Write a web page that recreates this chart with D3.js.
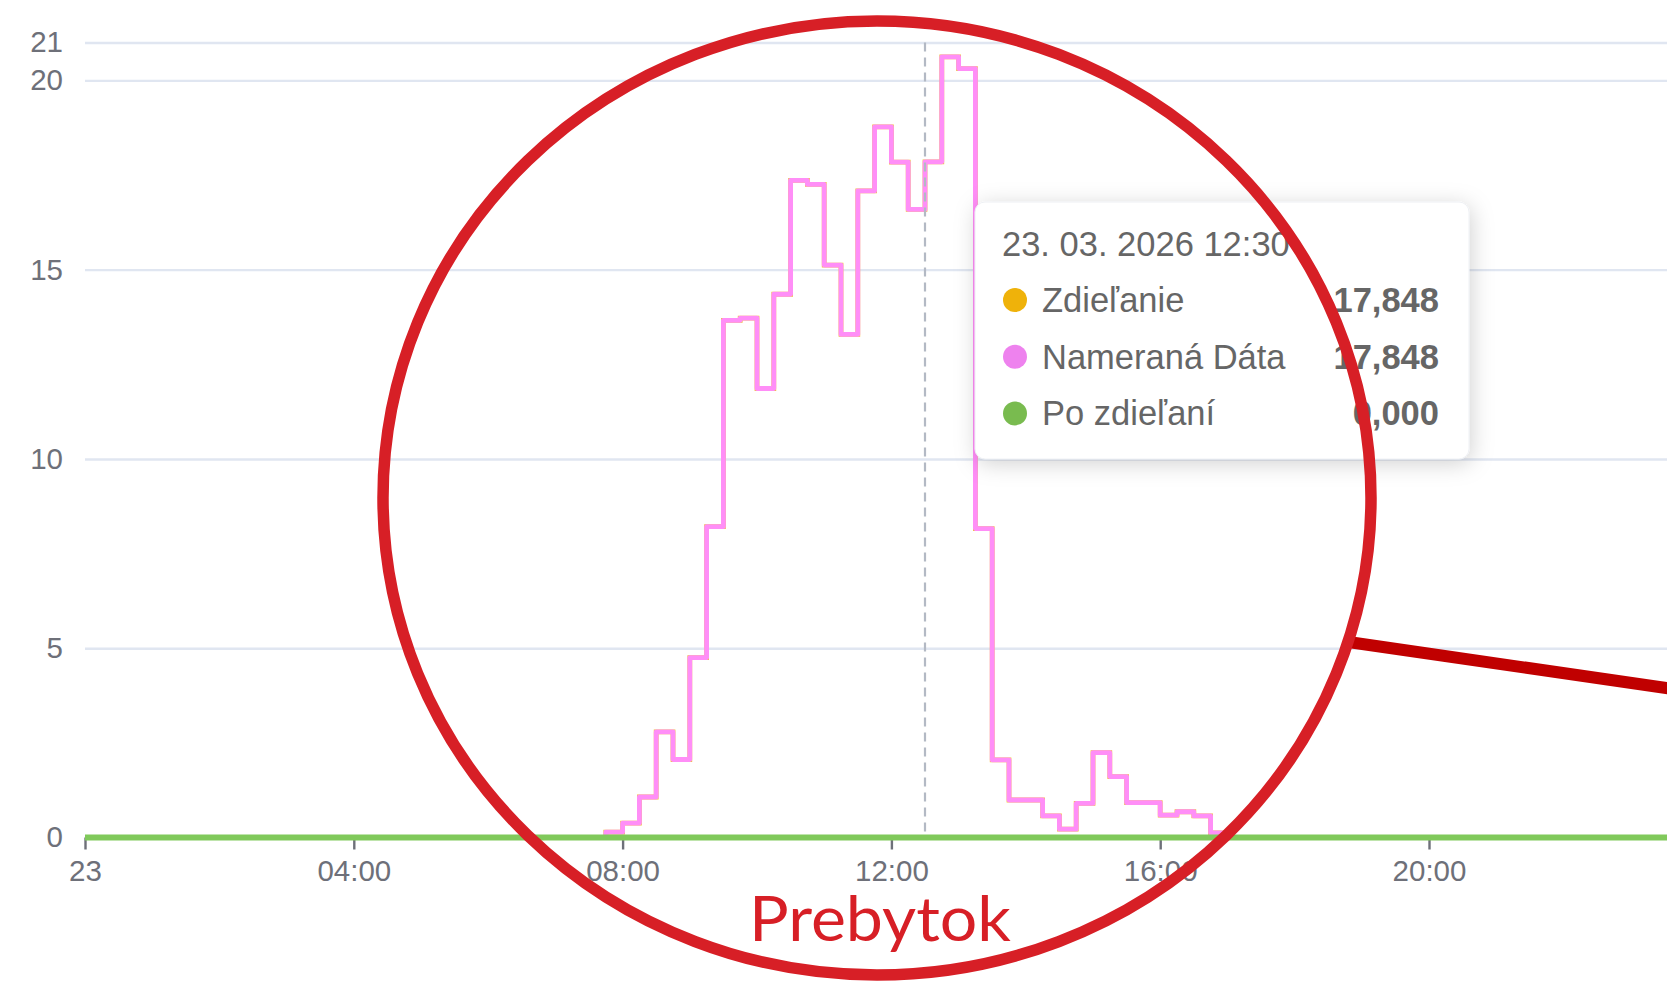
<!DOCTYPE html>
<html>
<head>
<meta charset="utf-8">
<script src="https://cdn.jsdelivr.net/npm/d3@7"></script>
<style>
  html, body { margin: 0; padding: 0; background: #fff; overflow: hidden; }
  svg { display: block; }
</style>
</head>
<body>
<svg width="1667" height="985"></svg>
<script>
// one day, 15 minute steps starting 23.03.2026 00:00
var startTime = new Date(2026, 2, 23, 0, 0);
var stepMinutes = 15;

var seriesNames = ["Zdieľanie", "Nameraná Dáta", "Po zdieľaní"];
var seriesDots = ["#efb20a", "#ee82ee", "#79bb4f"];

// Nameraná Dáta (kWh per 15 min), 00:00 .. 23:45
var namerane = [
  0, 0, 0, 0, 0, 0, 0, 0,           // 00:00 - 01:45
  0, 0, 0, 0, 0, 0, 0, 0,           // 02:00 - 03:45
  0, 0, 0, 0, 0, 0, 0, 0,           // 04:00 - 05:45
  0, 0, 0, 0, 0, 0, 0, 0.14,        // 06:00 - 07:45
  0.38, 1.07, 2.79, 2.06, 4.75, 8.21, 13.66, 13.72,      // 08:00 - 09:45
  11.86, 14.35, 17.36, 17.25, 15.12, 13.29, 17.08, 18.77, // 10:00 - 11:45
  17.84, 16.59, 17.848, 20.62, 20.31, 8.16, 2.05, 0.99,   // 12:00 - 13:45
  0.99, 0.57, 0.22, 0.90, 2.24, 1.61, 0.92, 0.92,         // 14:00 - 15:45
  0.59, 0.68, 0.57, 0.12, 0, 0, 0, 0,                     // 16:00 - 17:45
  0, 0, 0, 0, 0, 0, 0, 0,           // 18:00 - 19:45
  0, 0, 0, 0, 0, 0, 0, 0,           // 20:00 - 21:45
  0, 0, 0, 0, 0, 0, 0, 0            // 22:00 - 23:45
];

// Zdieľanie - same numbers as the measured data in the picture
var zdielanie = [
  0, 0, 0, 0, 0, 0, 0, 0,
  0, 0, 0, 0, 0, 0, 0, 0,
  0, 0, 0, 0, 0, 0, 0, 0,
  0, 0, 0, 0, 0, 0, 0, 0.14,
  0.38, 1.07, 2.79, 2.06, 4.75, 8.21, 13.66, 13.72,
  11.86, 14.35, 17.36, 17.25, 15.12, 13.29, 17.08, 18.77,
  17.84, 16.59, 17.848, 20.62, 20.31, 8.16, 2.05, 0.99,
  0.99, 0.57, 0.22, 0.90, 2.24, 1.61, 0.92, 0.92,
  0.59, 0.68, 0.57, 0.12, 0, 0, 0, 0,
  0, 0, 0, 0, 0, 0, 0, 0,
  0, 0, 0, 0, 0, 0, 0, 0,
  0, 0, 0, 0, 0, 0, 0, 0
];

// Po zdieľaní - flat zero all day
var poZdielani = [
  0, 0, 0, 0, 0, 0, 0, 0, 0, 0, 0, 0, 0, 0, 0, 0,
  0, 0, 0, 0, 0, 0, 0, 0, 0, 0, 0, 0, 0, 0, 0, 0,
  0, 0, 0, 0, 0, 0, 0, 0, 0, 0, 0, 0, 0, 0, 0, 0,
  0, 0, 0, 0, 0, 0, 0, 0, 0, 0, 0, 0, 0, 0, 0, 0,
  0, 0, 0, 0, 0, 0, 0, 0, 0, 0, 0, 0, 0, 0, 0, 0,
  0, 0, 0, 0, 0, 0, 0, 0, 0, 0, 0, 0, 0, 0, 0, 0
];

var yTicks = [0, 5, 10, 15, 20, 21];
var pointerIndex = 50;   // 12:30
var annotation = "Prebytok";

var svg = d3.select("svg"),
    width = +svg.attr("width"),
    height = +svg.attr("height");

var plotLeft = 85, plotTop = 42.5, plotBottom = 837.5, hourPx = 67.2;

var x = d3.scaleTime()
    .domain([startTime, d3.timeDay.offset(startTime, 1)])
    .range([plotLeft, plotLeft + 24 * hourPx]);

var y = d3.scaleLinear()
    .domain([0, 21])
    .range([plotBottom, plotTop]);

function timeAt(i) { return d3.timeMinute.offset(startTime, i * stepMinutes); }

// grid + y labels
var yAxis = svg.append("g")
    .attr("transform", "translate(" + plotLeft + ",0)")
    .call(d3.axisLeft(y).tickValues(yTicks).tickSize(-(width - plotLeft)).tickPadding(22));
yAxis.select(".domain").remove();
yAxis.selectAll("line").attr("stroke", "#e0e6f1").attr("stroke-width", 2.4);
yAxis.selectAll("text")
    .attr("fill", "#6e7079")
    .style("font", "29.5px 'Liberation Sans', Arial, sans-serif");

// x axis - only the ticks that fit in the window (the 24th is cut off)
var xTicks = x.ticks(d3.timeHour.every(4)).filter(function(d) { return x(d) < width - 20; });
var fmt = function(d) { return d.getHours() === 0 ? d3.timeFormat("%d")(d) : d3.timeFormat("%H:%M")(d); };
var xAxis = svg.append("g")
    .attr("transform", "translate(0," + plotBottom + ")")
    .call(d3.axisBottom(x).tickValues(xTicks).tickFormat(fmt).tickSize(12).tickPadding(11));
xAxis.select(".domain").remove();
xAxis.selectAll("line").attr("stroke", "#6e7079").attr("stroke-width", 2.4);
xAxis.selectAll("text")
    .attr("fill", "#6e7079")
    .style("font", "29.5px 'Liberation Sans', Arial, sans-serif");

// series
var line = d3.line()
    .x(function(d, i) { return x(timeAt(i)); })
    .y(function(d) { return y(d); })
    .curve(d3.curveStepAfter);

svg.append("path").datum(zdielanie)
    .attr("d", line).attr("fill", "none")
    .attr("stroke", "#f2c037").attr("stroke-width", 4.8);

svg.append("path").datum(namerane)
    .attr("d", line).attr("fill", "none")
    .attr("stroke", "#ff8ef7").attr("stroke-width", 4.8)
    .attr("stroke-linejoin", "round");

svg.append("path").datum(poZdielani)
    .attr("d", line).attr("fill", "none")
    .attr("stroke", "#80c95b").attr("stroke-width", 6);

// axis pointer
var px = x(timeAt(pointerIndex));
svg.append("line")
    .attr("x1", px).attr("x2", px)
    .attr("y1", plotTop).attr("y2", plotBottom)
    .attr("stroke", "#b3b9c4").attr("stroke-width", 2.2)
    .attr("stroke-dasharray", "9,6");

// tooltip
var defs = svg.append("defs");
var f = defs.append("filter").attr("id", "shadow")
    .attr("x", "-20%").attr("y", "-20%").attr("width", "140%").attr("height", "150%");
f.append("feDropShadow")
    .attr("dx", 2).attr("dy", 4).attr("stdDeviation", 11)
    .attr("flood-color", "#000").attr("flood-opacity", 0.18);

var tip = svg.append("g").attr("transform", "translate(975,202)");
tip.append("rect")
    .attr("width", 494).attr("height", 257).attr("rx", 10)
    .attr("fill", "#fff").attr("stroke", "#eef0f4").attr("stroke-width", 1)
    .attr("filter", "url(#shadow)");

var tipFont = "34.5px 'Liberation Sans', Arial, sans-serif";
tip.append("text")
    .attr("x", 27).attr("y", 54)
    .attr("fill", "#666").style("font", tipFont)
    .text(d3.timeFormat("%d. %m. %Y %H:%M")(timeAt(pointerIndex)));

var tipValues = [zdielanie[pointerIndex], namerane[pointerIndex], poZdielani[pointerIndex]];
var num = function(v) { return d3.format(".3f")(v).replace(".", ","); };

var rows = tip.selectAll(".row").data(seriesNames).enter().append("g")
    .attr("class", "row")
    .attr("transform", function(d, i) { return "translate(0," + (98 + i * 56.7) + ")"; });
rows.append("circle")
    .attr("cx", 40).attr("cy", 0).attr("r", 12)
    .attr("fill", function(d, i) { return seriesDots[i]; });
rows.append("text")
    .attr("x", 67).attr("y", 12)
    .attr("fill", "#666").style("font", tipFont)
    .text(function(d) { return d; });
rows.append("text")
    .attr("x", 464).attr("y", 12)
    .attr("text-anchor", "end")
    .attr("fill", "#666").style("font", "bold " + tipFont)
    .text(function(d, i) { return num(tipValues[i]); });

// red annotation
svg.append("line")
    .attr("x1", 1345).attr("y1", 641.5)
    .attr("x2", 1680).attr("y2", 690)
    .attr("stroke", "#c00000").attr("stroke-width", 12);

svg.append("ellipse")
    .attr("cx", 877).attr("cy", 498)
    .attr("rx", 494).attr("ry", 477)
    .attr("fill", "none")
    .attr("stroke", "#d71f26").attr("stroke-width", 11.5);

svg.append("text")
    .attr("x", 749).attr("y", 940.5)
    .attr("textLength", 262).attr("lengthAdjust", "spacingAndGlyphs")
    .attr("fill", "#d71f26")
    .style("font", "62px Lato, 'Open Sans', sans-serif")
    .text(annotation);
</script>
</body>
</html>
